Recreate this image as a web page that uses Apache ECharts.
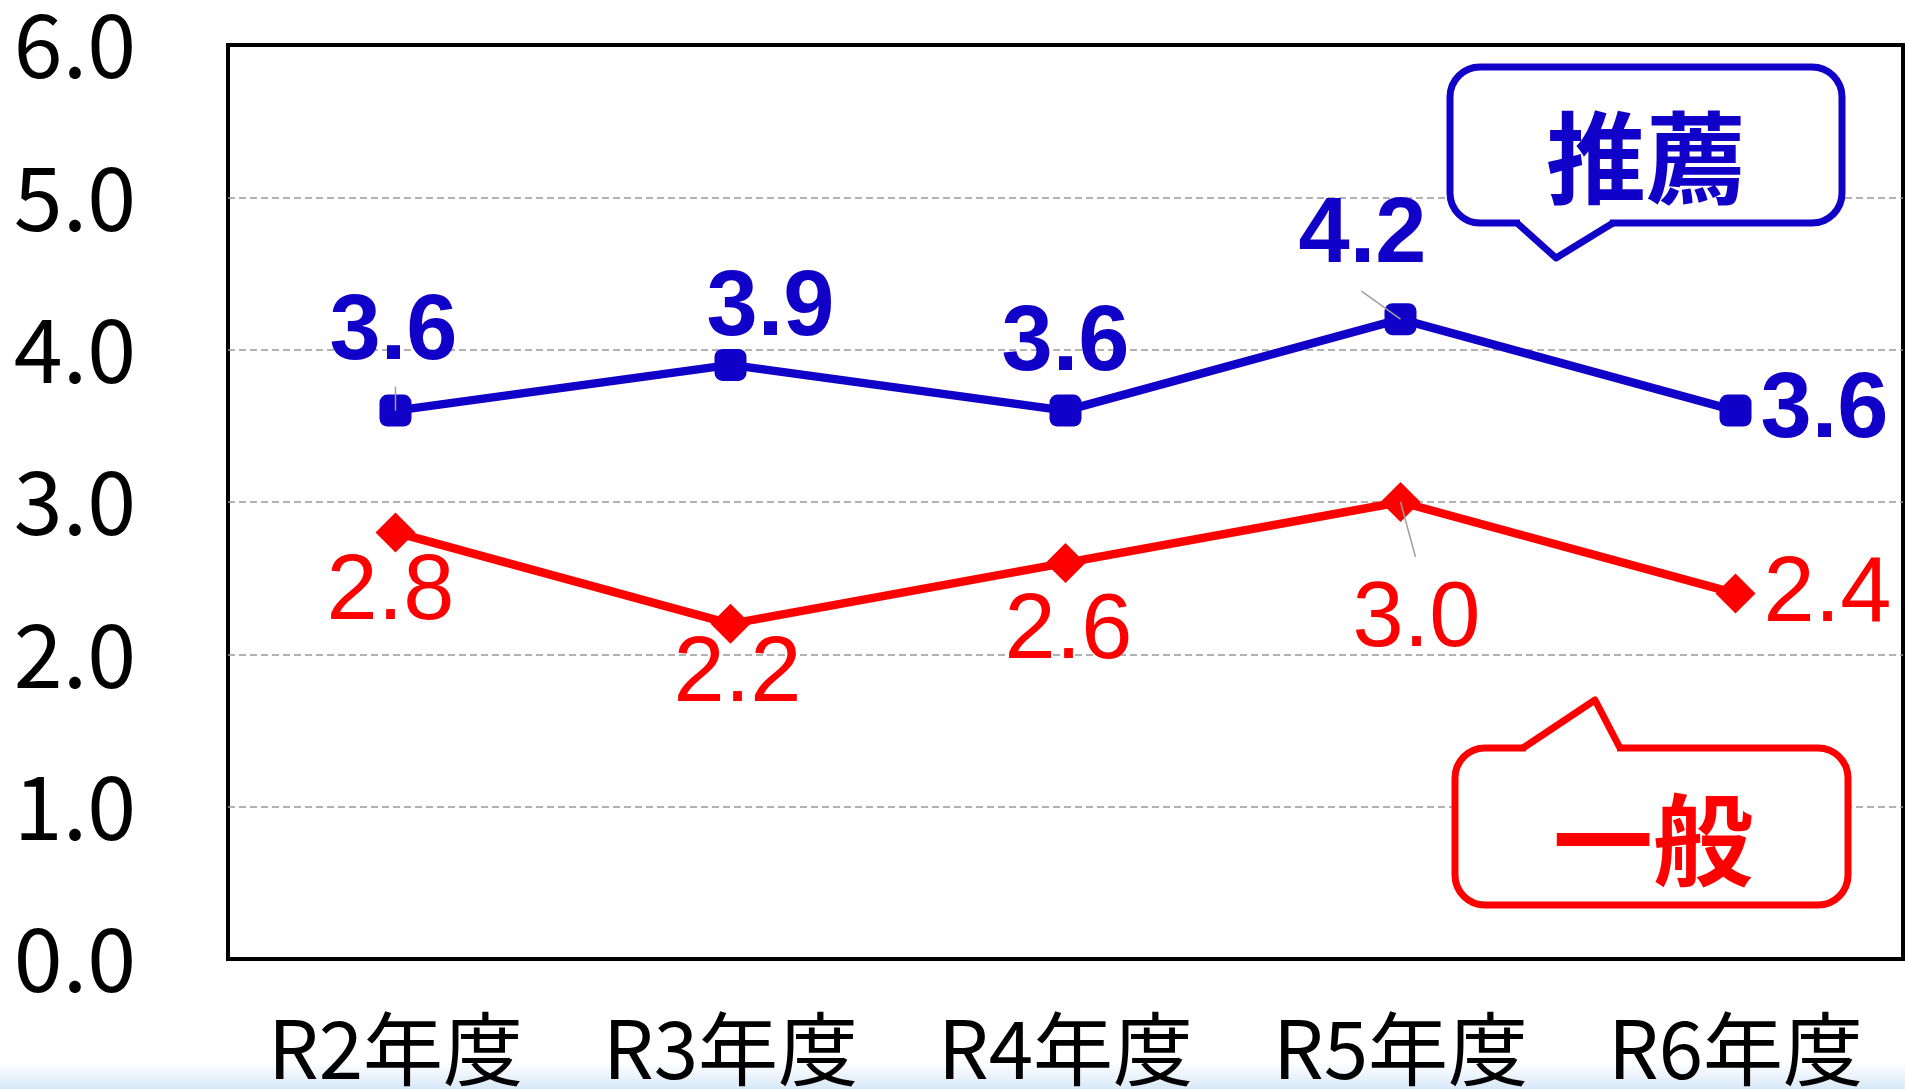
<!DOCTYPE html>
<html>
<head>
<meta charset="utf-8">
<script src="https://cdn.jsdelivr.net/npm/echarts@6/dist/echarts.min.js"></script>
<style>
html, body { margin: 0; padding: 0; background: #fff; }
#chart { width: 1905px; height: 1089px; }
</style>
</head>
<body>
<div id="chart"></div>
<script>
// 年度
var categories = ['R2年度', 'R3年度', 'R4年度', 'R5年度', 'R6年度'];
// 推薦 / 一般
var suisen = [3.6, 3.9, 3.6, 4.2, 3.6];
var ippan = [2.8, 2.2, 2.6, 3.0, 2.4];

// ラベル位置 (点からのずれ, px)
var suisenLabelPos = [[-2, -77], [40, -55], [0, -66], [-38, -83], [89, 1]];
var ippanLabelPos = [[-5, 61], [7, 52], [3, 70], [16, 119], [92, 2]];

// 引き出し線 [系列, 年度index, 始点dx, 始点dy, 終点dx, 終点dy]
var leaderLines = [
	[0, 0, 0, 0, 0, -24],
	[0, 3, 0, 0, -39, -28],
	[1, 3, 0, 0, 15, 55]
];

var BLUE = '#1000C8';
var RED = '#FF0000';
var JP = '"Noto Sans CJK JP", "Noto Sans", sans-serif';

function layoutBy(pos) {
	return function(params) {
		var o = pos[params.dataIndex];
		return { dx: o[0], dy: o[1] };
	};
}

var leaderData = [];
for (var k = 0; k < leaderLines.length; k++) {
	var src = leaderLines[k][0] == 0 ? suisen : ippan;
	leaderData.push([leaderLines[k][1], src[leaderLines[k][1]]]);
}

var myChart = echarts.init(document.getElementById('chart'));
var option = {
	animation: false,
	backgroundColor: '#fff',
	grid: {
		left: 228, top: 45, right: 2, bottom: 130,
		show: true,
		borderColor: '#000',
		borderWidth: 4
	},
	xAxis: {
		type: 'category',
		data: categories,
		boundaryGap: true,
		axisLine: { show: false },
		axisTick: { show: false },
		axisLabel: {
			color: '#000',
			fontFamily: JP,
			fontSize: 80,
			margin: 50
		}
	},
	yAxis: {
		type: 'value',
		min: 0, max: 6, interval: 1,
		axisLine: { show: false },
		axisTick: { show: false },
		axisLabel: {
			color: '#000',
			fontFamily: JP,
			fontSize: 88,
			margin: 92,
			formatter: function(v) { return v.toFixed(1); }
		},
		splitLine: {
			show: true,
			showMinLine: false,
			showMaxLine: false,
			lineStyle: { color: '#999', width: 1.5, type: [7, 4] }
		}
	},
	series: [
		{
			name: '推薦',
			type: 'line',
			data: suisen,
			symbol: 'roundRect',
			symbolSize: 32,
			lineStyle: { color: BLUE, width: 8.5 },
			itemStyle: { color: BLUE },
			label: {
				show: true,
				position: 'inside',
				color: BLUE,
				fontFamily: 'Liberation Sans, Arial, sans-serif',
				fontWeight: 'bold',
				fontSize: 92,
				formatter: function(p) { return p.value.toFixed(1); }
			},
			labelLayout: layoutBy(suisenLabelPos),
			z: 3
		},
		{
			name: '一般',
			type: 'line',
			data: ippan,
			symbol: 'diamond',
			symbolSize: [40, 40],
			lineStyle: { color: RED, width: 8.5 },
			itemStyle: { color: RED },
			label: {
				show: true,
				position: 'inside',
				color: RED,
				fontFamily: 'Liberation Sans, Arial, sans-serif',
				fontSize: 92,
				formatter: function(p) { return p.value.toFixed(1); }
			},
			labelLayout: layoutBy(ippanLabelPos),
			z: 3
		},
		{
			// 引き出し線
			type: 'custom',
			data: leaderData,
			silent: true,
			z: 5,
			renderItem: function(params, api) {
				var p = api.coord([api.value(0), api.value(1)]);
				var L = leaderLines[params.dataIndex];
				return {
					type: 'line',
					shape: { x1: p[0] + L[2], y1: p[1] + L[3], x2: p[0] + L[4], y2: p[1] + L[5] },
					style: { stroke: '#A0A0A0', lineWidth: 1.5 }
				};
			}
		}
	],
	graphic: [
		{
			type: 'rect', z: -1, silent: true,
			shape: { x: 0, y: 1062, width: 1905, height: 27 },
			style: {
				fill: new echarts.graphic.LinearGradient(0, 0, 0, 1, [
					{ offset: 0, color: 'rgba(255,255,255,1)' },
					{ offset: 1, color: '#D8E8F8' }
				])
			}
		},
		// 推薦 吹き出し
		{
			type: 'rect', z: 10,
			shape: { x: 1450, y: 67, width: 392, height: 156, r: 30 },
			style: { fill: '#fff', stroke: BLUE, lineWidth: 7 }
		},
		{
			type: 'polygon', z: 11,
			shape: { points: [[1520, 218], [1520, 228], [1556, 255], [1610, 228], [1610, 218]] },
			style: { fill: '#fff' }
		},
		{
			type: 'polyline', z: 12,
			shape: { points: [[1517, 223], [1556, 258], [1613, 223]] },
			style: { stroke: BLUE, lineWidth: 7, lineJoin: 'round', fill: null }
		},
		{
			type: 'text', z: 13,
			style: {
				text: '推薦', x: 1646, y: 158,
				textAlign: 'center', textVerticalAlign: 'middle',
				font: 'bold 100px ' + JP, fill: BLUE
			}
		},
		// 一般 吹き出し
		{
			type: 'rect', z: 10,
			shape: { x: 1455, y: 748, width: 393, height: 157, r: 30 },
			style: { fill: '#fff', stroke: RED, lineWidth: 7 }
		},
		{
			type: 'polygon', z: 11,
			shape: { points: [[1526, 753], [1526, 743], [1594, 703], [1617, 743], [1617, 753]] },
			style: { fill: '#fff' }
		},
		{
			type: 'polyline', z: 12,
			shape: { points: [[1523, 748], [1595, 700], [1620, 748]] },
			style: { stroke: RED, lineWidth: 7, lineJoin: 'round', fill: null }
		},
		{
			type: 'text', z: 13,
			style: {
				text: '一般', x: 1653, y: 840,
				textAlign: 'center', textVerticalAlign: 'middle',
				font: 'bold 100px ' + JP, fill: RED
			}
		}
	]
};
myChart.setOption(option);
</script>
</body>
</html>
